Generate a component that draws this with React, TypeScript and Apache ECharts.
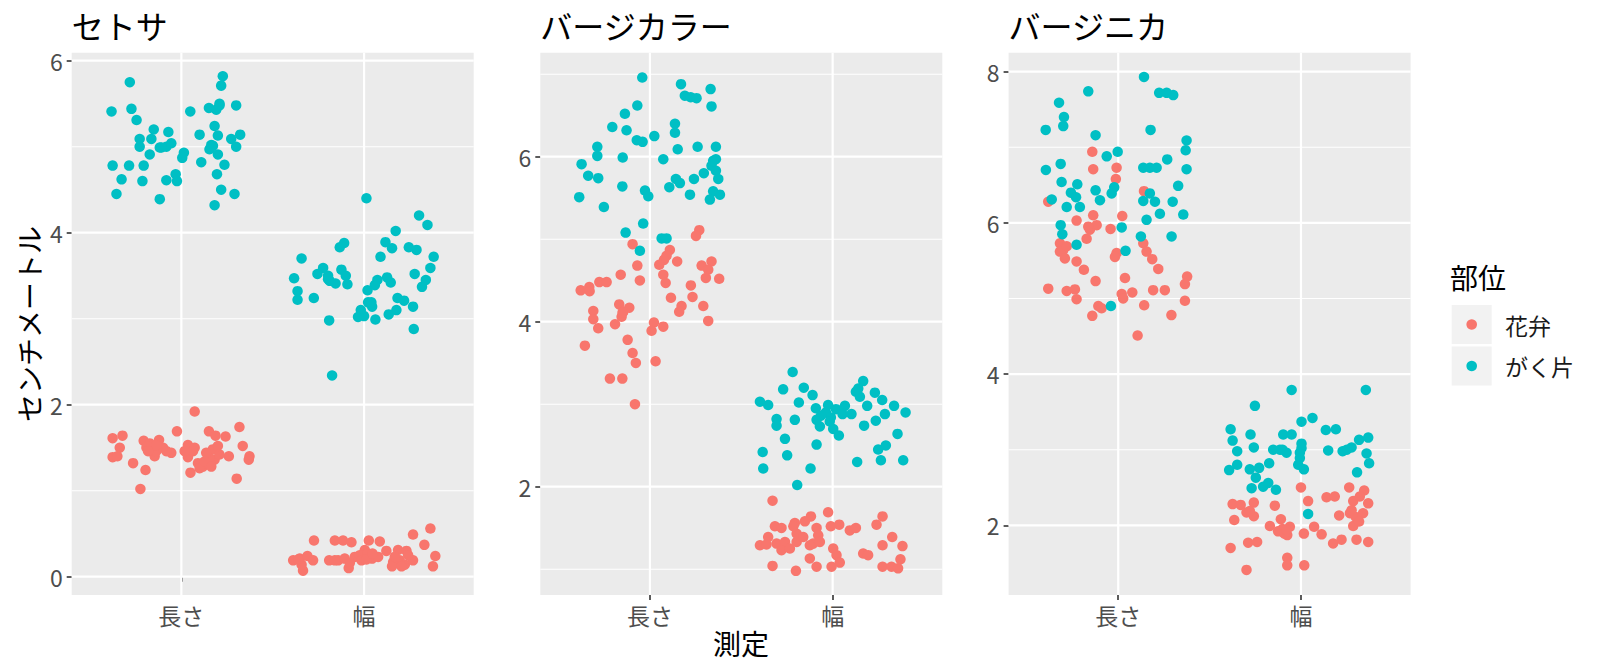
import React, { useEffect, useRef } from "react";
import * as echarts from "echarts";

// ---------- data ----------
const speciesNames = ["セトサ", "バージカラー", "バージニカ"];
const measureNames = ["長さ", "幅"];
const partNames = ["花弁", "がく片"];
const legendTitle = "部位";
const xTitle = "測定";
const yTitle = "センチメートル";

// [jitter offset from category, value in cm]
const setosaSepalLength = [[-0.282,5.75],[-0.382,5.41],[-0.273,5.44],[-0.245,5.31],[-0.151,5.20],[-0.071,5.17],[-0.228,5.09],[-0.164,5.09],[-0.228,5.00],[-0.118,4.99],[-0.082,5.00],[-0.055,5.04],[-0.173,4.91],[0.014,4.93],[0.005,4.87],[-0.376,4.78],[-0.286,4.78],[-0.206,4.78],[-0.327,4.62],[-0.213,4.60],[-0.082,4.61],[-0.031,4.68],[-0.024,4.60],[-0.355,4.45],[-0.118,4.39],[0.227,5.82],[0.218,5.71],[0.049,5.41],[0.151,5.45],[0.209,5.50],[0.191,5.43],[0.300,5.48],[0.182,5.24],[0.100,5.14],[0.200,5.13],[0.273,5.09],[0.322,5.14],[0.300,5.00],[0.164,5.02],[0.154,4.97],[0.200,4.91],[0.109,4.82],[0.236,4.79],[0.195,4.68],[0.218,4.50],[0.291,4.45],[0.182,4.32],[-0.109,4.99],[0.173,5.01],[0.209,5.48]];
const setosaPetalLength = [[0.073,1.92],[-0.376,1.61],[-0.322,1.64],[-0.337,1.50],[-0.376,1.39],[-0.350,1.40],[-0.264,1.32],[-0.196,1.24],[-0.224,1.02],[-0.206,1.58],[-0.173,1.55],[-0.191,1.50],[-0.155,1.48],[-0.122,1.59],[-0.146,1.40],[-0.100,1.50],[-0.055,1.44],[-0.024,1.69],[0.036,1.53],[0.073,1.50],[0.036,1.39],[0.091,1.32],[0.050,1.21],[0.118,1.28],[0.151,1.69],[0.187,1.64],[0.242,1.63],[0.318,1.74],[0.336,1.52],[0.373,1.40],[0.303,1.14],[0.260,1.40],[0.172,1.48],[0.182,1.36],[0.145,1.32],[0.209,1.42],[0.100,1.26],[0.369,1.36],[-0.164,1.52],[-0.137,1.46],[0.154,1.38],[0.127,1.34],[0.064,1.46],[-0.137,1.53],[-0.182,1.46],[0.200,1.52],[0.136,1.44],[-0.082,1.46],[0.164,1.28],[0.018,1.46]];
const setosaSepalWidth = [[0.013,4.40],[0.301,4.20],[0.347,4.09],[0.173,4.02],[-0.109,3.88],[-0.133,3.83],[0.117,3.89],[0.153,3.82],[0.245,3.83],[0.287,3.80],[0.381,3.72],[-0.342,3.70],[0.090,3.72],[0.363,3.59],[-0.224,3.59],[-0.124,3.57],[-0.255,3.52],[-0.197,3.50],[-0.100,3.50],[-0.383,3.47],[-0.188,3.44],[-0.156,3.41],[-0.091,3.40],[0.277,3.52],[0.338,3.45],[0.317,3.37],[0.073,3.45],[0.126,3.48],[0.146,3.42],[0.059,3.39],[0.019,3.33],[-0.364,3.32],[-0.364,3.22],[-0.275,3.24],[0.022,3.19],[0.044,3.14],[0.183,3.24],[0.219,3.21],[0.268,3.14],[0.177,3.10],[0.135,3.05],[-0.018,3.10],[-0.033,3.02],[0.000,3.03],[0.062,2.99],[-0.191,2.98],[0.272,2.88],[-0.175,2.34],[-0.197,3.46],[0.040,3.19]];
const setosaPetalWidth = [[0.363,0.56],[0.268,0.49],[0.330,0.37],[0.390,0.24],[0.377,0.12],[-0.274,0.42],[-0.160,0.42],[-0.115,0.42],[-0.069,0.40],[0.026,0.42],[0.086,0.41],[0.122,0.30],[0.186,0.31],[0.232,0.30],[0.004,0.31],[-0.388,0.19],[-0.352,0.21],[-0.310,0.24],[-0.279,0.19],[-0.334,0.07],[-0.342,0.14],[-0.191,0.19],[-0.142,0.19],[-0.106,0.21],[-0.084,0.10],[-0.051,0.23],[-0.024,0.25],[0.019,0.27],[0.044,0.21],[0.077,0.23],[0.159,0.17],[0.153,0.12],[0.195,0.19],[0.223,0.14],[0.268,0.19],[0.241,0.25],[-0.014,0.19],[0.013,0.20],[-0.078,0.16],[-0.160,0.19],[0.046,0.27],[0.205,0.12],[0.168,0.23],[-0.360,0.20]];

const versicolorSepalLength = [[-0.042,6.96],[0.170,6.88],[0.191,6.74],[0.223,6.72],[0.255,6.71],[0.332,6.82],[0.337,6.61],[-0.069,6.62],[-0.137,6.52],[-0.206,6.36],[-0.128,6.32],[0.024,6.25],[-0.072,6.20],[-0.040,6.18],[0.137,6.40],[0.137,6.29],[0.152,6.09],[0.261,6.12],[0.361,6.12],[-0.288,6.12],[-0.288,6.01],[-0.149,5.99],[0.073,5.97],[0.361,5.97],[-0.374,5.91],[0.337,5.89],[0.361,5.83],[0.295,5.80],[-0.338,5.77],[-0.283,5.74],[0.142,5.73],[0.164,5.68],[0.241,5.73],[0.374,5.73],[0.106,5.63],[-0.151,5.64],[-0.027,5.59],[-0.009,5.52],[-0.387,5.51],[0.219,5.54],[0.346,5.58],[0.383,5.54],[0.328,5.48],[-0.252,5.39],[-0.037,5.19],[-0.133,5.08],[0.064,5.01],[0.091,5.01],[-0.055,4.86],[0.346,5.95]];
const versicolorPetalLength = [[0.270,5.11],[0.252,5.04],[-0.095,4.94],[0.109,4.87],[0.091,4.80],[0.149,4.73],[0.077,4.75],[0.051,4.69],[-0.069,4.68],[0.337,4.73],[0.283,4.68],[0.319,4.63],[0.306,4.53],[0.379,4.52],[-0.160,4.57],[-0.055,4.50],[0.073,4.57],[0.086,4.47],[0.224,4.44],[-0.277,4.48],[-0.237,4.48],[-0.332,4.42],[-0.379,4.38],[-0.330,4.37],[0.115,4.29],[0.233,4.30],[0.292,4.19],[0.173,4.19],[0.160,4.12],[-0.168,4.21],[-0.113,4.17],[-0.310,4.13],[-0.146,4.12],[-0.155,4.06],[-0.310,4.03],[-0.191,3.97],[-0.283,3.92],[0.319,4.01],[0.022,3.99],[0.073,3.94],[0.009,3.89],[-0.122,3.78],[-0.356,3.71],[-0.095,3.62],[-0.077,3.50],[0.031,3.52],[-0.219,3.31],[-0.151,3.31],[-0.082,3.00],[-0.150,4.11]];
const versicolorSepalWidth = [[-0.219,3.39],[0.167,3.28],[-0.271,3.18],[-0.158,3.20],[-0.110,3.11],[0.127,3.15],[0.231,3.14],[0.149,3.09],[0.271,3.05],[-0.398,3.03],[-0.353,2.99],[-0.185,3.02],[0.189,2.98],[0.336,2.98],[0.399,2.90],[-0.092,2.95],[-0.037,2.90],[0.018,2.94],[0.067,2.98],[0.054,2.88],[0.103,2.88],[-0.010,2.84],[0.286,2.88],[0.236,2.80],[-0.307,2.82],[-0.307,2.74],[-0.207,2.81],[-0.088,2.81],[-0.070,2.73],[0.003,2.70],[0.034,2.62],[0.172,2.74],[0.355,2.64],[-0.261,2.58],[-0.088,2.51],[0.291,2.50],[0.249,2.45],[-0.383,2.42],[-0.249,2.38],[0.134,2.30],[0.264,2.32],[0.386,2.32],[-0.380,2.22],[-0.121,2.22],[-0.194,2.02],[-0.025,2.99],[0.140,3.19],[-0.064,2.86],[-0.016,2.79]];
const versicolorPetalWidth = [[-0.329,1.83],[-0.025,1.69],[0.273,1.64],[0.240,1.54],[-0.119,1.64],[-0.152,1.58],[-0.207,1.56],[-0.316,1.52],[-0.280,1.50],[-0.088,1.50],[-0.010,1.52],[0.036,1.54],[0.094,1.47],[0.127,1.50],[-0.353,1.39],[-0.398,1.29],[-0.307,1.31],[-0.261,1.33],[-0.197,1.33],[-0.197,1.43],[-0.079,1.41],[-0.107,1.31],[-0.280,1.23],[-0.161,1.39],[0.003,1.25],[0.021,1.17],[0.167,1.19],[0.194,1.17],[0.326,1.39],[0.382,1.28],[0.273,1.29],[0.371,1.12],[-0.329,1.04],[-0.201,0.98],[-0.125,1.13],[-0.088,1.03],[-0.006,1.03],[0.039,1.08],[0.273,1.03],[0.322,1.03],[0.358,1.01],[-0.234,1.25],[-0.125,1.29],[-0.362,1.30],[-0.215,1.52],[-0.070,1.33]];

const virginicaSepalLength = [[0.141,7.93],[-0.164,7.74],[0.224,7.72],[0.265,7.72],[0.301,7.69],[-0.324,7.59],[-0.297,7.40],[-0.301,7.28],[-0.397,7.23],[0.177,7.23],[-0.124,7.16],[0.374,7.09],[0.369,6.96],[-0.003,6.94],[-0.063,6.88],[0.268,6.84],[-0.396,6.70],[-0.315,6.78],[0.137,6.73],[0.173,6.73],[0.210,6.73],[0.374,6.71],[-0.310,6.54],[-0.224,6.51],[-0.259,6.40],[-0.231,6.34],[-0.124,6.43],[-0.100,6.30],[-0.022,6.47],[-0.036,6.39],[0.328,6.49],[0.173,6.39],[0.137,6.29],[0.201,6.28],[0.298,6.28],[-0.364,6.31],[-0.282,6.21],[-0.210,6.21],[0.155,6.04],[0.228,6.12],[0.356,6.11],[-0.315,5.97],[-0.306,5.85],[0.019,5.94],[-0.228,5.71],[0.124,5.82],[0.292,5.82],[0.040,5.63],[-0.040,4.90]];
const virginicaPetalLength = [[-0.142,6.94],[-0.137,6.71],[-0.009,6.73],[-0.013,6.58],[0.141,6.42],[-0.383,6.28],[-0.137,6.10],[-0.118,5.97],[-0.155,5.91],[-0.228,6.03],[0.022,6.09],[-0.042,5.92],[-0.173,5.79],[-0.319,5.73],[-0.301,5.64],[-0.319,5.62],[-0.292,5.53],[-0.228,5.49],[-0.188,5.38],[-0.124,5.23],[-0.383,5.13],[-0.282,5.10],[-0.237,5.12],[-0.228,4.99],[-0.009,5.60],[-0.018,5.55],[0.137,5.73],[0.155,5.62],[0.186,5.52],[0.219,5.39],[0.037,5.27],[0.377,5.29],[0.365,5.19],[0.077,5.08],[0.019,5.06],[0.027,5.00],[0.191,5.11],[0.255,5.11],[0.365,4.97],[0.142,4.91],[-0.109,4.90],[-0.091,4.87],[-0.142,4.77],[0.291,4.78],[0.106,4.51],[-0.282,5.69],[-0.164,5.95]];
const virginicaSepalWidth = [[-0.051,3.79],[0.355,3.79],[-0.252,3.58],[0.063,3.42],[0.003,3.37],[-0.385,3.27],[-0.276,3.20],[-0.097,3.20],[-0.051,3.20],[0.136,3.26],[0.191,3.27],[-0.374,3.12],[0.003,3.08],[-0.258,3.03],[-0.349,2.98],[-0.152,3.00],[-0.101,3.00],[-0.079,2.96],[0.149,2.99],[0.228,2.98],[0.277,3.03],[0.318,3.13],[0.368,3.16],[0.359,2.95],[0.373,2.82],[-0.006,2.96],[-0.006,2.89],[-0.015,2.80],[0.016,2.74],[-0.174,2.82],[-0.349,2.80],[-0.393,2.73],[-0.280,2.74],[-0.229,2.76],[-0.247,2.63],[0.307,2.70],[-0.270,2.49],[-0.207,2.51],[-0.179,2.56],[-0.137,2.47],[0.039,2.15],[-0.115,3.00],[0.251,3.00],[0.003,3.02]];
const virginicaPetalWidth = [[0.000,2.50],[0.264,2.50],[0.346,2.46],[0.140,2.37],[0.185,2.38],[0.039,2.32],[0.286,2.32],[0.368,2.29],[-0.374,2.28],[-0.330,2.27],[-0.258,2.30],[-0.143,2.26],[-0.298,2.17],[-0.258,2.12],[-0.365,2.07],[-0.110,2.08],[-0.170,1.99],[-0.101,1.95],[-0.061,1.98],[-0.075,1.87],[-0.125,1.92],[0.016,1.89],[0.072,1.98],[0.113,1.88],[0.209,2.13],[0.268,2.16],[0.300,2.11],[0.340,2.16],[0.286,1.99],[0.318,2.05],[0.176,1.76],[0.222,1.81],[0.304,1.81],[0.368,1.78],[-0.385,1.70],[-0.289,1.77],[-0.240,1.78],[-0.075,1.57],[-0.075,1.47],[0.018,1.47],[-0.298,1.41],[-0.090,1.89],[0.277,2.20],[-0.280,2.19],[0.322,2.38],[-0.079,1.94]];

// per panel: [part][measure]
const panelData = [
  [[setosaPetalLength, setosaPetalWidth], [setosaSepalLength, setosaSepalWidth]],
  [[versicolorPetalLength, versicolorPetalWidth], [versicolorSepalLength, versicolorSepalWidth]],
  [[virginicaPetalLength, virginicaPetalWidth], [virginicaSepalLength, virginicaSepalWidth]],
];

const yRanges = [[-0.213, 6.093], [0.687, 7.261], [1.078, 8.251]];
const majorTicks = [[0, 2, 4, 6], [2, 4, 6], [2, 4, 6, 8]];
const minorTicks = [[1, 3, 5], [1, 3, 5, 7], [3, 5, 7]];

// ---------- layout / style ----------
const FONT = '"Noto Sans CJK JP", "Noto Sans", sans-serif';
const partColors = ["#F8766D", "#00BFC4"];
const panelLefts = [71.7, 540.3, 1008.6];
const panelTop = 52.7;
const panelWidth = 402;
const panelHeight = 542.3;

function makeOption() {
  const grid: any[] = [];
  const xAxis: any[] = [];
  const yAxis: any[] = [];
  const series: any[] = [];

  panelData.forEach((parts, p) => {
    grid.push({
      left: panelLefts[p], top: panelTop, width: panelWidth, height: panelHeight,
      show: true, backgroundColor: "#EBEBEB", borderWidth: 0, containLabel: false,
    });
    xAxis.push({
      type: "value", gridIndex: p, min: 0.4, max: 2.6,
      axisLine: { show: false }, splitLine: { show: false },
      axisTick: { show: true, customValues: [1, 2], length: 5, lineStyle: { color: "#333333", width: 1.6 } },
      axisLabel: {
        show: true, customValues: [1, 2], margin: 8,
        formatter: (v: number) => measureNames[Math.round(v) - 1] ?? "",
        fontSize: 23, color: "#4D4D4D", fontFamily: FONT,
      },
    });
    yAxis.push({
      type: "value", gridIndex: p, min: yRanges[p][0], max: yRanges[p][1],
      axisLine: { show: false }, splitLine: { show: false },
      axisTick: { show: true, customValues: majorTicks[p], length: 5, lineStyle: { color: "#333333", width: 1.6 } },
      axisLabel: {
        show: true, customValues: majorTicks[p], margin: 9,
        formatter: (v: number) => String(v),
        fontSize: 23, color: "#4D4D4D", fontFamily: FONT,
      },
    });

    const gridData = [
      ...majorTicks[p].map((v) => [0, v]),
      ...minorTicks[p].map((v) => [1, v]),
      [2, 1], [2, 2],
    ];
    series.push({
      type: "custom", xAxisIndex: p, yAxisIndex: p, silent: true, z: 1,
      data: gridData,
      renderItem: (params: any, api: any) => {
        const cs = params.coordSys;
        const kind = api.value(0);
        const v = api.value(1);
        if (kind === 2) {
          const x = api.coord([v, yRanges[p][0]])[0];
          return { type: "line", shape: { x1: x, y1: cs.y, x2: x, y2: cs.y + cs.height }, style: { stroke: "#FFFFFF", lineWidth: 2.2 } };
        }
        const y = api.coord([1, v])[1];
        return { type: "line", shape: { x1: cs.x, y1: y, x2: cs.x + cs.width, y2: y }, style: { stroke: "#FFFFFF", lineWidth: kind === 0 ? 2.2 : 1.1 } };
      },
    });

    parts.forEach((measures, k) => {
      const data: number[][] = [];
      measures.forEach((pts, m) => {
        pts.forEach(([j, v]) => data.push([m + 1 + j, v]));
      });
      series.push({
        type: "scatter", name: partNames[k], xAxisIndex: p, yAxisIndex: p,
        symbol: "circle", symbolSize: 10.5, z: 3 + k,
        itemStyle: { color: partColors[k], opacity: 1 },
        data,
      });
    });
  });

  const title = speciesNames.map((s, i) => ({
    text: s, left: panelLefts[i], top: 9, padding: 0,
    textStyle: { fontSize: 32, fontWeight: "normal", color: "#000000", fontFamily: FONT },
  }));

  const graphic: any[] = [
    { type: "text", x: 29, y: 324, rotation: Math.PI / 2, style: { text: yTitle, fontSize: 28, fill: "#000000", align: "center", verticalAlign: "middle", fontFamily: FONT } },
    { type: "text", x: 741, y: 643, style: { text: xTitle, fontSize: 28, fill: "#000000", align: "center", verticalAlign: "middle", fontFamily: FONT } },
    { type: "text", x: 1450, y: 277, style: { text: legendTitle, fontSize: 28, fill: "#000000", align: "left", verticalAlign: "middle", fontFamily: FONT } },
  ];
  partNames.forEach((name, k) => {
    const top = 305 + k * 41.5;
    graphic.push({ type: "rect", x: 1451.7, y: top, shape: { width: 40, height: 39 }, style: { fill: "#F2F2F2" } });
    graphic.push({ type: "circle", x: 1471.7, y: top + 19.5, shape: { r: 5.3 }, style: { fill: partColors[k] } });
    graphic.push({ type: "text", x: 1505, y: top + 19.5, style: { text: name, fontSize: 23, fill: "#1A1A1A", align: "left", verticalAlign: "middle", fontFamily: FONT } });
  });

  return {
    animation: false,
    backgroundColor: "#FFFFFF",
    title, grid, xAxis, yAxis, series, graphic,
  };
}

export default function App() {
  const ref = useRef<HTMLDivElement>(null);
  useEffect(() => {
    if (!ref.current) return;
    const chart = echarts.init(ref.current, null, { renderer: "svg" });
    chart.setOption(makeOption() as any);
    return () => chart.dispose();
  }, []);
  return (
    <div
      ref={ref}
      style={{ position: "fixed", left: 0, top: 0, width: "1600px", height: "672px", background: "#FFFFFF" }}
    />
  );
}
